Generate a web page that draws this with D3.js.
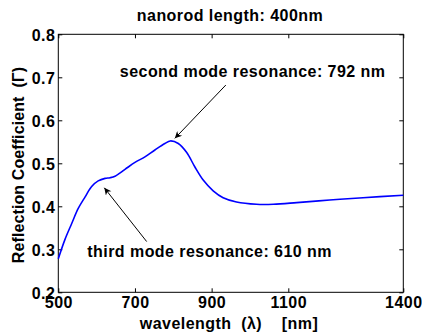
<!DOCTYPE html>
<html><head><meta charset="utf-8">
<script src="https://cdn.jsdelivr.net/npm/d3@7"></script>
<style>
html,body{margin:0;padding:0;background:#fff;}
svg text{font-family:"Liberation Sans",Arial,Helvetica,sans-serif;font-weight:bold;fill:#000;letter-spacing:0.45px;}
</style></head>
<body>
<svg id="chart" width="422" height="336"></svg>
<script>
const wavelength = [500,517,535,552,570,587,604,622,635,648,674,700,726,752,778,792,813,835,856,878,904,930,965,1017,1061,1122,1208,1295,1400];
const reflection = [0.278,0.322,0.360,0.395,0.422,0.446,0.459,0.465,0.4665,0.470,0.486,0.502,0.515,0.531,0.546,0.552,0.546,0.525,0.492,0.461,0.436,0.420,0.410,0.4047,0.4047,0.4085,0.4147,0.420,0.4256];
const xTicks = [500,700,900,1100,1400];
const yTicks = [0.2,0.3,0.4,0.5,0.6,0.7,0.8];
const titleText = "nanorod length: 400nm";
const xLabel = "wavelength  (λ)    [nm]";
const yLabel = "Reflection Coefficient  (Γ)";
const annotations = [
  {text:"second mode resonance: 792 nm", tx:1007, ty:0.701, anchor:"middle", x1:937, y1:0.682, x2:804, y2:0.558},
  {text:"third mode resonance: 610 nm", tx:575.6, ty:0.283, anchor:"start", x1:730.5, y1:0.318, x2:620, y2:0.443}
];

const svg = d3.select("#chart");
const L=58.3, R=403.3, T=34.3, B=292.3;
const x = d3.scaleLinear().domain([500,1400]).range([L,R]);
const y = d3.scaleLinear().domain([0.2,0.8]).range([B,T]);

svg.append("defs").append("marker").attr("id","ah")
  .attr("viewBox","0 0 10 10").attr("refX",10).attr("refY",5)
  .attr("markerWidth",10).attr("markerHeight",7).attr("markerUnits","userSpaceOnUse")
  .attr("orient","auto")
  .append("path").attr("d","M0,0 L10,5 L0,10 L3,5 Z").attr("fill","#000");

svg.append("rect").attr("x",L).attr("y",T).attr("width",R-L).attr("height",B-T)
  .attr("fill","none").attr("stroke","#000").attr("stroke-width",1);

const fs = 16;
const xb = svg.append("g").attr("transform",`translate(0,${B})`)
  .call(d3.axisBottom(x).tickValues(xTicks).tickSize(-4).tickFormat(d3.format("d")));
const xt = svg.append("g").attr("transform",`translate(0,${T})`)
  .call(d3.axisTop(x).tickValues(xTicks).tickSize(-4).tickFormat(""));
const yl = svg.append("g").attr("transform",`translate(${L},0)`)
  .call(d3.axisLeft(y).tickValues(yTicks).tickSize(-4).tickPadding(3).tickFormat(d3.format(".1f")));
const yr = svg.append("g").attr("transform",`translate(${R},0)`)
  .call(d3.axisRight(y).tickValues(yTicks).tickSize(-4).tickFormat(""));
[xb,xt,yl,yr].forEach(g=>{
  g.select(".domain").remove();
  g.selectAll("line").attr("stroke","#000");
  g.selectAll("text").attr("font-size",fs).attr("font-family",null).attr("fill","#000");
});
xb.selectAll("text").attr("dy",null).attr("y",16);
yl.selectAll("text").attr("dy","0.36em");

svg.append("path").datum(wavelength.map((w,i)=>[w,reflection[i]]))
  .attr("fill","none").attr("stroke","#0000ff").attr("stroke-width",1.6)
  .attr("d", d3.line().x(d=>x(d[0])).y(d=>y(d[1])).curve(d3.curveCatmullRom.alpha(0.5)));

annotations.forEach(a=>{
  svg.append("line").attr("x1",x(a.x1)).attr("y1",y(a.y1)).attr("x2",x(a.x2)).attr("y2",y(a.y2))
    .attr("stroke","#000").attr("stroke-width",1).attr("marker-end","url(#ah)");
  svg.append("text").attr("x",x(a.tx)).attr("y",y(a.ty)).attr("text-anchor",a.anchor)
    .attr("font-size",fs).text(a.text);
});

svg.append("text").attr("x",230).attr("y",20.7).attr("text-anchor","middle").attr("font-size",fs).text(titleText);
svg.append("text").attr("x",229).attr("y",329).attr("text-anchor","middle").attr("font-size",fs).style("white-space","pre").text(xLabel);
svg.append("text").attr("transform","translate(23.5,165) rotate(-90)").attr("text-anchor","middle").attr("font-size",fs).style("white-space","pre").style("letter-spacing","0.1px").text(yLabel);
</script>
</body></html>
